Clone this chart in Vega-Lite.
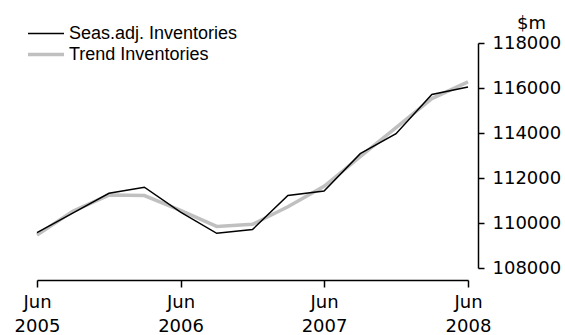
{
  "$schema": "https://vega.github.io/schema/vega-lite/v6.json",
  "autosize": "none",
  "width": 431,
  "height": 225,
  "padding": {"left": 37, "top": 43, "right": 97, "bottom": 67},
  "background": "white",
  "config": {
    "view": {"stroke": null},
    "font": "DejaVu Sans"
  },
  "data": {
    "values": [
      {"date": "2005-06-01", "series": "Seas.adj. Inventories", "value": 109573},
      {"date": "2005-09-01", "series": "Seas.adj. Inventories", "value": 110450},
      {"date": "2005-12-01", "series": "Seas.adj. Inventories", "value": 111320},
      {"date": "2006-03-01", "series": "Seas.adj. Inventories", "value": 111590},
      {"date": "2006-06-01", "series": "Seas.adj. Inventories", "value": 110480},
      {"date": "2006-09-01", "series": "Seas.adj. Inventories", "value": 109540},
      {"date": "2006-12-01", "series": "Seas.adj. Inventories", "value": 109710},
      {"date": "2007-03-01", "series": "Seas.adj. Inventories", "value": 111220},
      {"date": "2007-06-01", "series": "Seas.adj. Inventories", "value": 111420},
      {"date": "2007-09-01", "series": "Seas.adj. Inventories", "value": 113080},
      {"date": "2007-12-01", "series": "Seas.adj. Inventories", "value": 113970},
      {"date": "2008-03-01", "series": "Seas.adj. Inventories", "value": 115710},
      {"date": "2008-06-01", "series": "Seas.adj. Inventories", "value": 116040},
      {"date": "2005-06-01", "series": "Trend Inventories", "value": 109470},
      {"date": "2005-09-01", "series": "Trend Inventories", "value": 110530},
      {"date": "2005-12-01", "series": "Trend Inventories", "value": 111240},
      {"date": "2006-03-01", "series": "Trend Inventories", "value": 111220},
      {"date": "2006-06-01", "series": "Trend Inventories", "value": 110560},
      {"date": "2006-09-01", "series": "Trend Inventories", "value": 109850},
      {"date": "2006-12-01", "series": "Trend Inventories", "value": 109940},
      {"date": "2007-03-01", "series": "Trend Inventories", "value": 110720},
      {"date": "2007-06-01", "series": "Trend Inventories", "value": 111630},
      {"date": "2007-09-01", "series": "Trend Inventories", "value": 112950},
      {"date": "2007-12-01", "series": "Trend Inventories", "value": 114240},
      {"date": "2008-03-01", "series": "Trend Inventories", "value": 115530},
      {"date": "2008-06-01", "series": "Trend Inventories", "value": 116270}
    ]
  },
  "encoding": {
    "x": {
      "field": "date",
      "type": "temporal",
      "scale": {
        "type": "utc",
        "domain": [
          {"year": 2005, "month": 6, "date": 1, "utc": true},
          {"year": 2008, "month": 6, "date": 1, "utc": true}
        ]
      },
      "axis": {
        "title": null,
        "values": [
          {"year": 2005, "month": 6, "date": 1, "utc": true},
          {"year": 2006, "month": 6, "date": 1, "utc": true},
          {"year": 2007, "month": 6, "date": 1, "utc": true},
          {"year": 2008, "month": 6, "date": 1, "utc": true}
        ],
        "labelExpr": "[utcFormat(datum.value, '%b'), utcFormat(datum.value, '%Y')]",
        "offset": 12,
        "grid": false,
        "domainColor": "black",
        "domainWidth": 1.5,
        "tickColor": "black",
        "tickWidth": 1.5,
        "tickSize": 7,
        "labelPadding": 6,
        "labelFontSize": 18,
        "labelLineHeight": 24,
        "labelColor": "black",
        "labelFlush": false,
        "labelOverlap": false
      }
    },
    "y": {
      "field": "value",
      "type": "quantitative",
      "scale": {"domain": [108000, 118000], "zero": false, "nice": false},
      "axis": {
        "orient": "right",
        "offset": 10,
        "values": [108000, 110000, 112000, 114000, 116000, 118000],
        "format": "d",
        "grid": false,
        "domainColor": "black",
        "domainWidth": 1.5,
        "tickColor": "black",
        "tickWidth": 1.5,
        "tickSize": 6,
        "labelPadding": 8,
        "labelFontSize": 18,
        "labelColor": "black",
        "labelFlush": false,
        "labelOverlap": false,
        "title": "$m",
        "titleAngle": 0,
        "titleX": 53,
        "titleY": -20,
        "titleAlign": "center",
        "titleBaseline": "middle",
        "titleFontSize": 18,
        "titleFontWeight": "normal",
        "titleColor": "black"
      }
    },
    "color": {
      "field": "series",
      "type": "nominal",
      "scale": {
        "domain": ["Seas.adj. Inventories", "Trend Inventories"],
        "range": ["#000000", "#c0c0c0"]
      },
      "legend": {
        "title": null,
        "orient": "none",
        "legendX": -11,
        "legendY": -20,
        "padding": 0,
        "symbolType": "stroke",
        "symbolSize": 1296,
        "labelFont": "Liberation Sans",
        "labelFontSize": 18,
        "labelLimit": 300,
        "labelColor": "black",
        "labelOffset": 3,
        "rowPadding": 0,
        "clipHeight": 21
      }
    },
    "strokeWidth": {
      "field": "series",
      "type": "nominal",
      "scale": {
        "domain": ["Seas.adj. Inventories", "Trend Inventories"],
        "range": [1.5, 3.5]
      },
      "legend": null
    }
  },
  "layer": [
    {
      "transform": [{"filter": "datum.series === 'Trend Inventories'"}],
      "mark": {"type": "line"}
    },
    {
      "transform": [{"filter": "datum.series === 'Seas.adj. Inventories'"}],
      "mark": {"type": "line"}
    }
  ]
}
